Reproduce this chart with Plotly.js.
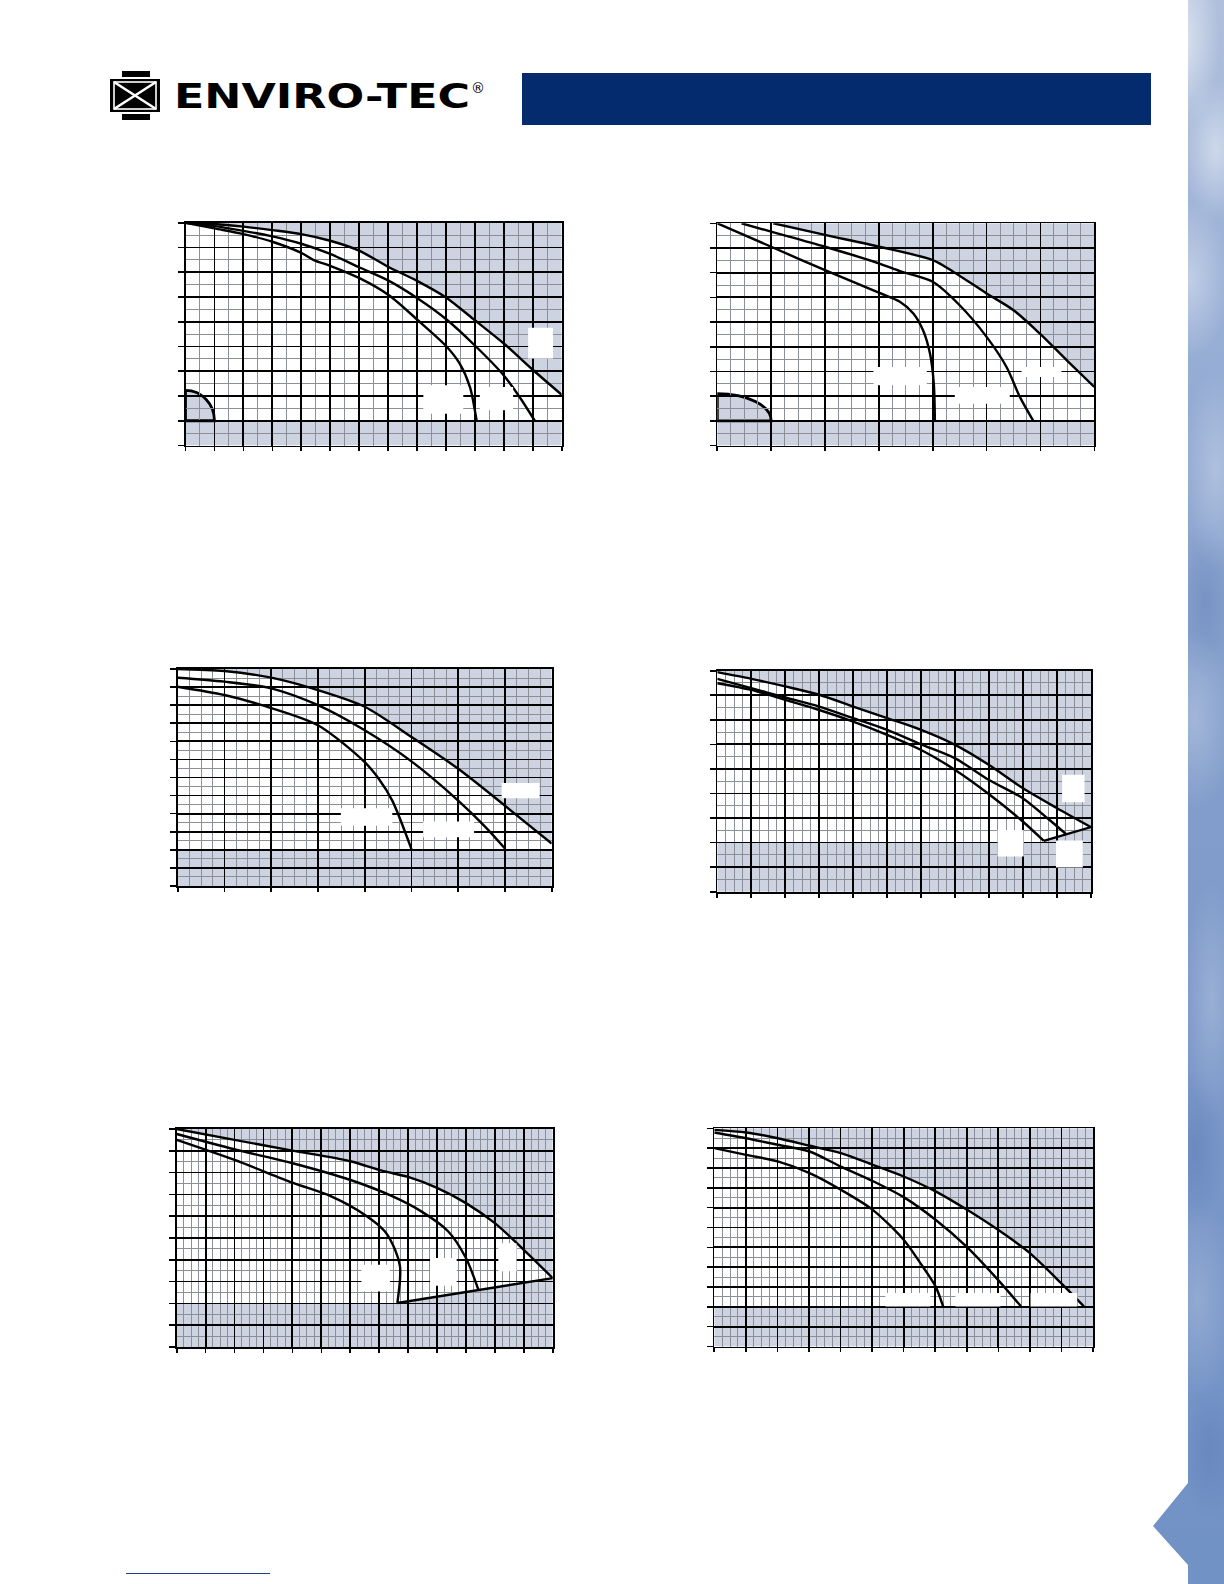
<!DOCTYPE html>
<html><head><meta charset="utf-8">
<script src="https://cdn.plot.ly/plotly-3.0.1.min.js"></script>
<style>
html,body{margin:0;padding:0;background:#fff;}
#page{position:relative;width:1224px;height:1584px;overflow:hidden;background:#fff;}
#plot{position:absolute;left:0;top:0;width:1224px;height:1584px;}
#deco{position:absolute;left:0;top:0;pointer-events:none;}
#stripe{position:absolute;left:1150px;top:0;width:74px;height:1584px;
clip-path:polygon(38px 0,74px 0,74px 1584px,38px 1584px,38px 1565px,3px 1526px,38px 1483px);
background:
radial-gradient(ellipse 40px 90px at 30px 40px, rgba(255,255,255,.6), rgba(255,255,255,0)),
radial-gradient(ellipse 35px 70px at 66px 150px, rgba(255,255,255,.45), rgba(255,255,255,0)),
radial-gradient(ellipse 40px 80px at 40px 280px, rgba(255,255,255,.38), rgba(255,255,255,0)),
radial-gradient(ellipse 35px 100px at 66px 470px, rgba(255,255,255,.28), rgba(255,255,255,0)),
radial-gradient(ellipse 40px 90px at 45px 720px, rgba(255,255,255,.24), rgba(255,255,255,0)),
radial-gradient(ellipse 30px 120px at 62px 1000px, rgba(255,255,255,.22), rgba(255,255,255,0)),
radial-gradient(ellipse 40px 100px at 48px 1300px, rgba(255,255,255,.2), rgba(255,255,255,0)),
radial-gradient(ellipse 30px 80px at 55px 600px, rgba(60,90,160,.22), rgba(60,90,160,0)),
radial-gradient(ellipse 30px 80px at 45px 1150px, rgba(60,90,160,.22), rgba(60,90,160,0)),
radial-gradient(ellipse 30px 70px at 60px 1450px, rgba(60,90,160,.2), rgba(60,90,160,0)),
linear-gradient(180deg,#b0c0dc 0%,#9ab0d6 18%,#87a1cd 40%,#7c98c9 65%,#7192c5 100%);}
</style></head>
<body>
<div id="page">
<div id="plot"></div>
<div id="stripe"></div>
<svg id="deco" width="1224" height="1584">
 <rect x="522" y="73" width="629" height="52" fill="#032b6d"/>
 <rect x="122" y="71" width="28" height="6" fill="#000"/>
 <rect x="122" y="114" width="28" height="6" fill="#000"/>
 <rect x="110" y="79" width="50" height="33" fill="#000"/>
 <rect x="114" y="82" width="42" height="27" fill="none" stroke="#fff" stroke-width="1.6"/>
 <line x1="114" y1="82" x2="156" y2="109" stroke="#fff" stroke-width="2.6"/>
 <line x1="156" y1="82" x2="114" y2="109" stroke="#fff" stroke-width="2.6"/>
 <text x="174" y="108" font-family="DejaVu Sans, sans-serif" font-weight="bold" font-size="33" textLength="296" lengthAdjust="spacingAndGlyphs">ENVIRO-TEC</text>
 <text x="471" y="93" font-family="DejaVu Sans, sans-serif" font-size="14">®</text>
 <line x1="126" y1="1573.5" x2="270" y2="1573.5" stroke="#233f8c" stroke-width="1.2"/>
</svg>
</div>
<script>
// ---------- Chart 1 ----------
const c1TopX = [0, 1, 2, 3, 4, 5, 6, 7, 8, 9, 10, 11, 12, 13];
const c1TopY = [9, 8.95, 8.84, 8.7, 8.54, 8.27, 7.87, 7.22, 6.65, 5.98, 5.06, 4.12, 3.06, 2.05];
const c1MidX = [0, 1, 2, 3, 4, 5, 6, 7, 8, 9, 10, 11, 11.55, 12.07];
const c1MidY = [9, 8.86, 8.67, 8.45, 8.15, 7.74, 7.2, 6.67, 5.96, 5.11, 4.04, 2.83, 1.95, 1.0];
const c1BotX = [0, 1, 2, 3, 4, 4.43, 5.02, 6.03, 7.03, 8.03, 9.02, 9.48, 9.83, 10.06];
const c1BotY = [9, 8.77, 8.54, 8.23, 7.78, 7.49, 7.25, 6.75, 6.07, 5.06, 4.0, 3.3, 2.36, 1.0];
const c1Boxes = [[11.84, 12.7, 3.51, 4.76], [8.22, 9.6, 1.28, 2.43], [10.17, 11.32, 1.42, 2.36]];
// ---------- Chart 2 ----------
const c2TopX = [1.04, 2, 3.01, 4, 4.38, 5, 5.5, 5.99, 6.49, 7];
const c2TopY = [9, 8.53, 8.05, 7.51, 7.04, 6.16, 5.48, 4.53, 3.45, 2.37];
const c2MidX = [0.45, 1, 2, 3.01, 3.39, 4, 4.5, 5, 5.37, 5.62, 5.87];
const c2MidY = [9, 8.66, 8.05, 7.37, 7.06, 6.63, 5.68, 4.4, 3.18, 1.96, 0.99];
const c2BotX = [0, 1, 2, 3.01, 3.39, 3.64, 3.82, 3.95, 4.02, 4.04];
const c2BotY = [9, 8.05, 7.1, 6.18, 5.82, 5.35, 4.67, 3.72, 2.5, 0.99];
const c2Boxes = [[2.9, 3.89, 2.44, 3.18], [4.41, 5.43, 1.69, 2.37], [5.65, 6.39, 2.77, 3.18]];
// ---------- Chart 3 ----------
const c3TopX = [0, 1, 2, 3, 4, 5, 6, 7, 8];
const c3TopY = [12, 11.89, 11.52, 10.83, 9.91, 8.24, 6.48, 4.44, 2.35];
const c3MidX = [0, 1, 2, 3, 4, 5, 6, 6.59, 7];
const c3MidY = [11.52, 11.3, 10.93, 10.0, 8.61, 6.89, 4.72, 3.24, 2.07];
const c3BotX = [0, 1, 1.8, 3, 4, 4.3, 4.59, 5];
const c3BotY = [11.02, 10.56, 10, 8.89, 6.85, 5.93, 4.72, 2.04];
const c3Boxes = [[6.93, 7.74, 4.85, 5.7], [3.49, 4.59, 3.33, 4.3], [5.25, 6.34, 2.69, 3.56]];
// ---------- Chart 4 ----------
const c4TopX = [0, 1, 2, 3, 4, 5, 6, 7, 8, 9, 10, 11];
const c4TopY = [8.94, 8.67, 8.36, 8.02, 7.54, 7.07, 6.59, 5.98, 5.16, 4.21, 3.4, 2.63];
const c4MidX = [0, 1, 2, 3, 4, 5, 6, 7, 8, 9, 9.72, 10.27];
const c4MidY = [8.67, 8.29, 7.91, 7.54, 7.07, 6.59, 6.0, 5.43, 4.55, 3.8, 2.99, 2.34];
const c4BotX = [0, 1, 2, 3, 4, 5, 6, 7, 8, 9, 9.61];
const c4BotY = [8.49, 8.22, 7.81, 7.4, 6.93, 6.39, 5.77, 4.96, 3.97, 2.85, 2.07];
const c4EndX = [9.61, 10.27, 11];
const c4EndY = [2.07, 2.34, 2.63];
const c4Boxes = [[10.15, 10.81, 3.64, 4.76], [8.25, 9.02, 1.43, 2.51], [9.97, 10.76, 0.99, 2.08]];
// ---------- Chart 5 ----------
const c5TopX = [0, 2, 4, 6, 7.09, 8, 9, 10, 11, 12, 13];
const c5TopY = [10, 9.5, 9.01, 8.52, 8.09, 7.8, 7.3, 6.6, 5.68, 4.46, 3.16];
const c5MidX = [0, 1.99, 4.01, 6.01, 7.43, 8.47, 9.39, 10, 10.43];
const c5MidY = [9.77, 9.07, 8.43, 7.66, 6.93, 6.21, 5.3, 4.08, 2.63];
const c5BotX = [0, 2, 4, 5.36, 6.51, 7.2, 7.55, 7.72, 7.72, 7.63];
const c5BotY = [9.5, 8.58, 7.54, 6.9, 6.06, 5.3, 4.46, 3.7, 3.08, 2.02];
const c5EndX = [7.63, 10.43, 13];
const c5EndY = [2.02, 2.63, 3.16];
const c5Boxes = [[6.39, 7.37, 2.55, 3.77], [8.76, 9.68, 2.81, 4.08], [11.12, 11.75, 3.47, 4.76]];
// ---------- Chart 6 ----------
const c6TopX = [0, 1.01, 2.01, 3.02, 4.01, 5.02, 6, 7.01, 8.01, 8.99, 10, 10.99, 11.71];
const c6TopY = [10.92, 10.79, 10.5, 10.12, 9.75, 9.16, 8.57, 7.82, 6.89, 5.88, 4.71, 3.19, 2.02];
const c6MidX = [0, 1.01, 2.01, 3.02, 3.99, 5.05, 6, 7.01, 8.01, 8.99, 9.72];
const c6MidY = [10.79, 10.5, 10.17, 9.83, 9.08, 8.32, 7.53, 6.39, 5.01, 3.36, 2.02];
const c6BotX = [0, 1.01, 2.01, 3.02, 4.01, 5.02, 6, 6.53, 7.01, 7.25];
const c6BotY = [10, 9.66, 9.33, 8.74, 7.9, 6.89, 5.38, 4.2, 3.03, 2.02];
const c6Boxes = [[5.42, 6.85, 2.02, 2.7], [7.64, 9.07, 2.02, 2.7], [10.02, 11.5, 2.02, 2.7]];
// minimum-flow corner zones (x extent, y top)
const c1Corner = [1, 2.23];
const c2Corner = [1, 2.1];

const W = 1224, H = 1584;
const SHADE = '#cdd3e0';

const charts = [
  {box: [185.5, 561.7, 222.7, 445.5], nx: 13, ny: 9, sx: 2, sy: 2, band: 1, corner: c1Corner,
   curves: [[c1TopX, c1TopY], [c1MidX, c1MidY], [c1BotX, c1BotY]], end: null, boxes: c1Boxes},
  {box: [717.3, 1094.3, 223.3, 445.5], nx: 7, ny: 9, sx: 4, sy: 2, band: 1, corner: c2Corner,
   curves: [[c2TopX, c2TopY], [c2MidX, c2MidY], [c2BotX, c2BotY]], end: null, boxes: c2Boxes},
  {box: [177.7, 551.7, 669, 886], nx: 8, ny: 12, sx: 4, sy: 2, band: 2, corner: null,
   curves: [[c3TopX, c3TopY], [c3MidX, c3MidY], [c3BotX, c3BotY]], end: null, boxes: c3Boxes},
  {box: [717.3, 1091, 670.7, 891.7], nx: 11, ny: 9, sx: 4, sy: 2, band: 2, corner: null,
   curves: [[c4TopX, c4TopY], [c4MidX, c4MidY], [c4BotX, c4BotY]], end: [c4EndX, c4EndY], boxes: c4Boxes},
  {box: [176.7, 552.7, 1129, 1347], nx: 13, ny: 10, sx: 4, sy: 2, band: 2, corner: null,
   curves: [[c5TopX, c5TopY], [c5MidX, c5MidY], [c5BotX, c5BotY]], end: [c5EndX, c5EndY], boxes: c5Boxes},
  {box: [714.3, 1093, 1128.3, 1346.5], nx: 12, ny: 11, sx: 4, sy: 2, band: 2, corner: null,
   curves: [[c6TopX, c6TopY], [c6MidX, c6MidY], [c6BotX, c6BotY]], end: null, boxes: c6Boxes}
];

function axis(n, sub, domain, anchor, ticklen) {
  return {domain: domain, anchor: anchor, range: [0, n], autorange: false,
    tickmode: 'linear', tick0: 0, dtick: 1, showticklabels: false,
    ticks: 'outside', ticklen: ticklen, tickwidth: 1.6, tickcolor: '#000',
    showgrid: true, gridcolor: '#000', gridwidth: 1.8, zeroline: false,
    showline: true, linecolor: '#000', linewidth: 1.8, mirror: true, fixedrange: true,
    minor: {tickmode: 'linear', tick0: 0, dtick: 1 / sub, showgrid: true,
            gridcolor: '#8a8f98', gridwidth: 1, ticks: ''}};
}
function pathOf(pts) {
  return pts.map((p, j) => (j ? 'L' : 'M') + p[0] + ',' + p[1]).join(' ') + ' Z';
}

const data = [], shapes = [];
const layout = {width: W, height: H, margin: {l: 0, r: 0, t: 0, b: 0},
  paper_bgcolor: 'rgba(0,0,0,0)', plot_bgcolor: '#ffffff', showlegend: false};

charts.forEach((c, i) => {
  const n = i + 1, s = n > 1 ? String(n) : '';
  const xr = 'x' + s, yr = 'y' + s;
  const [l, r, t, b] = c.box;
  layout['xaxis' + s] = axis(c.nx, c.sx, [l / W, r / W], yr, 4);
  layout['yaxis' + s] = axis(c.ny, c.sy, [1 - b / H, 1 - t / H], xr, 6);

  // shaded zone above the top curve
  const tx = c.curves[0][0], ty = c.curves[0][1];
  const top = tx.map((x, j) => [x, ty[j]]);
  top.push([c.nx, ty[ty.length - 1]], [c.nx, c.ny], [tx[0], c.ny]);
  shapes.push({type: 'path', xref: xr, yref: yr, path: pathOf(top), fillcolor: SHADE,
               line: {width: 0}, layer: 'below'});
  // bottom band
  shapes.push({type: 'rect', xref: xr, yref: yr, x0: 0, x1: c.nx, y0: 0, y1: c.band,
               fillcolor: SHADE, line: {width: 0}, layer: 'below'});
  // zone under the system/closing line
  if (c.end) {
    const ex = c.end[0], ey = c.end[1];
    const poly = ex.map((x, j) => [x, ey[j]]);
    poly.push([c.nx, c.band], [ex[0], c.band]);
    shapes.push({type: 'path', xref: xr, yref: yr, path: pathOf(poly), fillcolor: SHADE,
                 line: {width: 0}, layer: 'below'});
    data.push({type: 'scatter', mode: 'lines', x: ex, y: ey, xaxis: xr, yaxis: yr,
               line: {color: '#000', width: 2.4}, hoverinfo: 'skip'});
  }
  // corner zone (quarter ellipse)
  if (c.corner) {
    const qx = c.corner[0], qy = c.corner[1], k = 0.5523, bd = c.band;
    const p = 'M0,' + qy + ' C' + (k * qx) + ',' + qy + ' ' + qx + ',' + (bd + k * (qy - bd)) + ' ' + qx + ',' + bd + ' L0,' + bd + ' Z';
    shapes.push({type: 'path', xref: xr, yref: yr, path: p, fillcolor: SHADE,
                 line: {width: 2.8, color: '#000'}, layer: 'below'});
  }
  // fan curves
  c.curves.forEach(cv => {
    data.push({type: 'scatter', mode: 'lines', x: cv[0], y: cv[1], xaxis: xr, yaxis: yr,
               line: {color: '#000', width: 2.4, shape: 'spline', smoothing: 0.8}, hoverinfo: 'skip'});
  });
  // blank label boxes
  c.boxes.forEach(bx => {
    shapes.push({type: 'rect', xref: xr, yref: yr, x0: bx[0], x1: bx[1], y0: bx[2], y1: bx[3],
                 fillcolor: '#ffffff', line: {width: 0}, layer: 'above'});
  });
});
layout.shapes = shapes;
Plotly.newPlot('plot', data, layout, {staticPlot: true, displayModeBar: false});
</script>
</body></html>
